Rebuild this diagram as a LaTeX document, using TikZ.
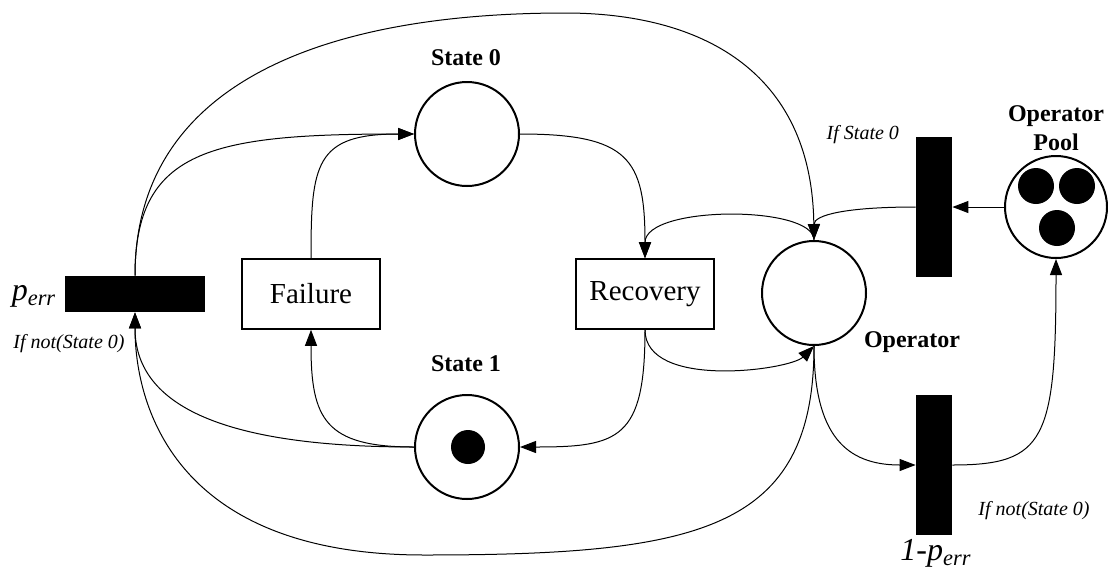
\documentclass[tikz,border=0pt]{standalone}
\usepackage{fontspec}
\setmainfont{Liberation Serif}
\usetikzlibrary{arrows.meta}

\begin{document}
\begin{tikzpicture}[x=0.5pt,y=0.5pt,
    place/.style={draw,circle,line width=1pt,minimum size=52pt,inner sep=0pt},
    token/.style={fill,circle,minimum size=17pt,inner sep=0pt},
    trans/.style={fill,inner sep=0pt},
    act/.style={draw,line width=0.8pt,minimum width=69pt,minimum height=35pt,inner sep=0pt,font=\fontsize{14.5}{17}\selectfont},
    lbl/.style={font=\fontsize{12}{14.5}\selectfont\bfseries,align=center},
    cond/.style={font=\fontsize{10}{12}\selectfont\itshape},
    prob/.style={font=\fontsize{16}{19}\selectfont\itshape},
    flow/.style={line width=0.5pt,-{Triangle[length=8pt,width=6pt]}}]
    \useasboundingbox (0,0) rectangle (1108,570);
    \node[trans,minimum width=70pt,minimum height=18pt] (perr) at (135,276) {};
    \node[place] (s0) at (467,436) {};
    \node[place] (s1) at (467,123) {};
    \node[token] (s1tok) at (468,123) {};
    \node[act] (fail) at (311,276) {Failure};
    \node[act] (rec) at (645,276) {Recovery};
    \node[place] (op) at (814,277) {};
    \node[trans,minimum width=18pt,minimum height=70pt] (ifst) at (934,363) {};
    \node[place,minimum size=51pt] (pool) at (1056,363) {};
    \node[token,minimum size=18pt] (pool1) at (1036,384) {};
    \node[token,minimum size=18pt] (pool2) at (1077,384) {};
    \node[token,minimum size=18pt] (pool3) at (1057,342) {};
    \node[trans,minimum width=18pt,minimum height=70pt] (notst) at (934,105) {};
    \node[lbl] (s0lbl) at (466,512) {State 0};
    \node[lbl] (s1lbl) at (466,206) {State 1};
    \node[lbl] (oplbl) at (912,228) {Operator};
    \node[lbl] (poollbl) at (1056,442) {Operator\\Pool};
    \node[prob] (perrlbl) at (34,274) {p\textsubscript{err}};
    \node[cond] (perrcond) at (69,226) {If not(State 0)};
    \node[cond,anchor=east] (ifstlbl) at (906,435) {If State 0};
    \node[cond] (notstcond) at (1034,59) {If not(State 0)};
    \node[prob] (notstlbl) at (936,17) {1-p\textsubscript{err}};
    \draw[flow] (perr.north) .. controls (135,420) and (210,436) .. (s0.west);
    \draw[flow] (perr.north) .. controls (135,485) and (320,557) .. (565,557) .. controls (700,557) and (812,500) .. (op.north);
    \draw[flow] (fail.north) .. controls (311,406) and (315,436) .. (s0.west);
    \draw[flow] (s0.east) .. controls (629,436) and (645,411) .. (rec.north);
    \draw[flow] (op.north) .. controls (814,365) and (645,365) .. (rec.north);
    \draw[flow] (ifst.west) .. controls (846,363) and (814,355) .. (op.north);
    \draw[flow] (pool.west) -- (ifst.east);
    \draw[flow] (rec.south) .. controls (645,180) and (790,200) .. (op.south);
    \draw[flow] (rec.south) .. controls (645,131) and (619,123) .. (s1.east);
    \draw[flow] (s1.west) .. controls (325,123) and (311,151) .. (fail.south);
    \draw[flow] (s1.west) .. controls (215,123) and (135,168) .. (perr.south);
    \draw[flow] (op.south) .. controls (814,40) and (700,15) .. (424,15) .. controls (170,15) and (135,170) .. (perr.south);
    \draw[flow] (op.south) .. controls (814,135) and (846,105) .. (notst.west);
    \draw[flow] (notst.east) .. controls (1045,105) and (1056,130) .. (pool.south);
\end{tikzpicture}
\end{document}
